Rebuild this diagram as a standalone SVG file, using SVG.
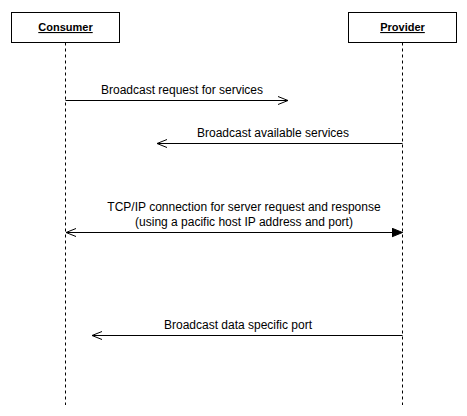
<svg xmlns="http://www.w3.org/2000/svg" width="467" height="416" viewBox="0 0 467 416">
<style>
.box{fill:#fff;stroke:#000;stroke-width:1}
.life{stroke:#000;stroke-width:1;stroke-dasharray:3 3;fill:none}
.msg{stroke:#000;stroke-width:1;fill:none}
.t{font-family:"Liberation Sans",Arial,sans-serif;font-size:12px;fill:#000;text-anchor:middle}
.h{font-size:11px;font-weight:bold;text-decoration:underline}
</style>
<defs>
<marker id="open" markerWidth="12" markerHeight="10" refX="10" refY="5" orient="auto" markerUnits="userSpaceOnUse">
<path d="M0,1 L10,5 L0,9" fill="none" stroke="#000" stroke-width="1"/>
</marker>
<marker id="openStart" markerWidth="12" markerHeight="10" refX="0" refY="5" orient="auto" markerUnits="userSpaceOnUse">
<path d="M10,1 L0,5 L10,9" fill="none" stroke="#000" stroke-width="1"/>
</marker>
<marker id="filled" markerWidth="12" markerHeight="10" refX="11" refY="5" orient="auto" markerUnits="userSpaceOnUse">
<path d="M0,0.5 L11,5 L0,9.5 Z" fill="#000" stroke="#000" stroke-width="1"/>
</marker>
</defs>
<g id="consumer">
<rect class="box" x="11.5" y="12.5" width="108" height="30"/>
<text class="t h" x="65.5" y="31">Consumer</text>
<line class="life" x1="65.5" y1="42.5" x2="65.5" y2="405"/>
</g>
<g id="provider">
<rect class="box" x="348.5" y="12.5" width="108" height="30"/>
<text class="t h" x="402.5" y="31">Provider</text>
<line class="life" x1="402.5" y1="42.5" x2="402.5" y2="405"/>
</g>
<g id="connectors">
<line class="msg" x1="65.5" y1="100.5" x2="288" y2="100.5" marker-end="url(#open)"/>
<text class="t" x="182" y="94">Broadcast request for services</text>
<line class="msg" x1="402.5" y1="143.5" x2="157" y2="143.5" marker-end="url(#open)"/>
<text class="t" x="273" y="137">Broadcast available services</text>
<line class="msg" x1="66" y1="232.5" x2="402.5" y2="232.5" marker-start="url(#openStart)" marker-end="url(#filled)"/>
<text class="t" x="244" y="211">TCP/IP connection for server request and response</text>
<text class="t" x="244" y="226">(using a pacific host IP address and port)</text>
<line class="msg" x1="402.5" y1="335.5" x2="92" y2="335.5" marker-end="url(#open)"/>
<text class="t" x="238" y="329">Broadcast data specific port</text>
</g>
</svg>
